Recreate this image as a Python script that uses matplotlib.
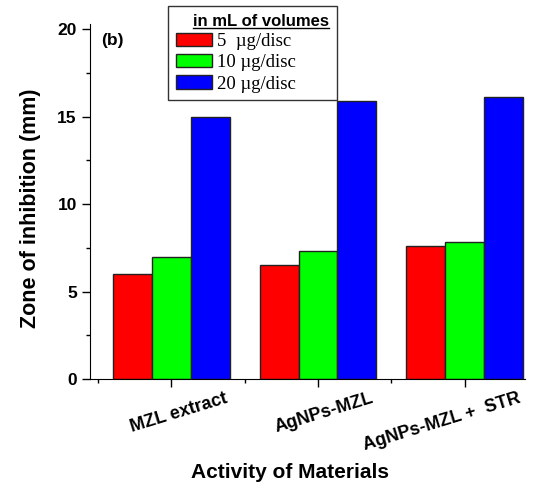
import numpy as np
import matplotlib.pyplot as plt
from matplotlib.lines import Line2D

# Data
materials = ['MZL extract', 'AgNPs-MZL', 'AgNPs-MZL +  STR']
doses = ['5  \u00b5g/disc', '10 \u00b5g/disc', '20 \u00b5g/disc']
dose_5 = [6.0, 6.5, 7.6]
dose_10 = [7.0, 7.3, 7.85]
dose_20 = [15.0, 15.9, 16.1]
colors = ['#ff0000', '#00ff00', '#0000ff']

fig = plt.figure(figsize=(5.4, 4.9), dpi=100)
ax = fig.add_axes([0.1667, 0.2265, 0.8053, 0.7245])

x = np.arange(1, len(materials) + 1)
w = 0.265
for k, vals in enumerate([dose_5, dose_10, dose_20]):
    ax.bar(x + (k - 1) * w, vals, width=w, color=colors[k], edgecolor='#222222',
           linewidth=1.0, label=doses[k])

ax.set_xlim(0.446, 3.41)
ax.set_ylim(0, 20.3)
ax.set_yticks([0, 5, 10, 15, 20])
ax.set_yticks([2.5, 7.5, 12.5, 17.5], minor=True)
ax.set_xticks(x)
ax.set_xticks([0.5, 1.5, 2.5], minor=True)
ax.set_xticklabels([])
# rotated category labels, ending a bit right of their tick
for xi, name in zip(x, materials):
    ax.annotate(name, xy=(xi, 0), xycoords=('data', 'axes fraction'),
                xytext=(38, -8), textcoords='offset points', ha='right', va='top',
                rotation=17, rotation_mode='anchor', fontsize=13, fontweight='bold',
                family='Liberation Sans', annotation_clip=False)
for lab in ax.get_yticklabels():
    lab.set_fontsize(12.5)
    lab.set_fontweight('bold')
    lab.set_family('Liberation Sans')
ax.tick_params(axis='both', which='major', direction='out', length=6, width=1)
ax.tick_params(axis='both', which='minor', direction='out', length=3, width=1)
ax.spines['top'].set_visible(False)
ax.spines['right'].set_visible(False)

ax.set_ylabel('Zone of inhibition (mm)', fontsize=15.5, fontweight='bold',
              family='Liberation Sans')
ax.yaxis.set_label_coords(-0.113, 0.48)
ax.set_xlabel('Activity of Materials', fontsize=15, fontweight='bold',
              family='Liberation Sans')
ax.xaxis.set_label_coords(0.46, -0.237)
ax.text(0.025, 0.975, '(b)', transform=ax.transAxes, fontsize=12.5, fontweight='bold',
        family='Liberation Sans', va='top')

leg = ax.legend(loc='upper left',
                bbox_to_anchor=(168 / 540, 1 - 6 / 490 - 0.01, 169 / 540, 0.01),
                bbox_transform=fig.transFigure, borderaxespad=0, fancybox=False,
                mode='expand', edgecolor='#333333', framealpha=1, title='in mL of volumes',
                prop={'family': 'Liberation Serif', 'size': 13.5},
                handlelength=1.95, handleheight=0.72, handletextpad=0.25,
                labelspacing=0.22, borderpad=0.4, alignment='right')
leg.get_frame().set_linewidth(1.0)
t = leg.get_title()
t.set_fontweight('bold')
t.set_family('Liberation Sans')
t.set_fontsize(12)

# underline the legend title
fig.canvas.draw()
bb = t.get_window_extent().transformed(fig.transFigure.inverted())
fig.add_artist(Line2D([bb.x0, bb.x1], [bb.y0 + 0.002, bb.y0 + 0.002],
                      transform=fig.transFigure, color='black', lw=1))

fig.savefig('out.png', dpi=100)
